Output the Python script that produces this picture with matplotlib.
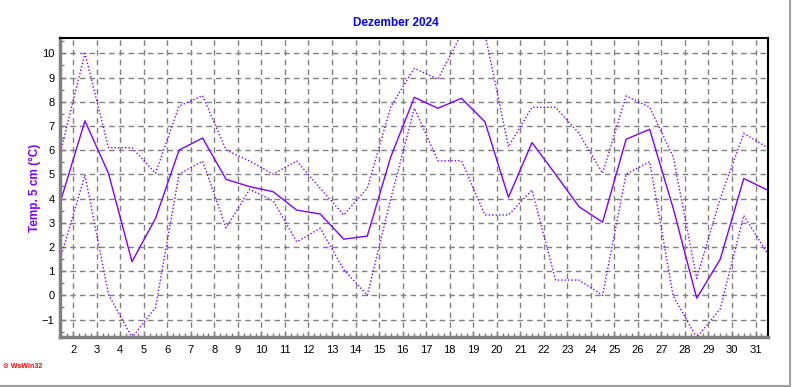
import numpy as np
import matplotlib.pyplot as plt
from matplotlib.ticker import MultipleLocator
from matplotlib.lines import Line2D

# Days of December 2024 (values plotted in the middle of each day)
days = np.arange(1, 32)

# Soil temperature at 5 cm (°C)
temp_mean = [4.0, 7.21, 5.04, 1.39, 3.18, 6.0, 6.5, 4.79, 4.49, 4.28,
             3.52, 3.36, 2.32, 2.45, 5.73, 8.18, 7.73, 8.14, 7.17, 4.05,
             6.31, 5.0, 3.66, 3.02, 6.45, 6.86, 3.6, -0.12, 1.49, 4.83, 4.35]
temp_max = [6.07, 10.0, 6.1, 6.1, 5.04, 7.82, 8.25, 6.0, 5.55, 5.01,
            5.55, 4.42, 3.32, 4.42, 7.8, 9.38, 8.93, 10.8, 10.8, 6.14,
            7.77, 7.77, 6.69, 5.04, 8.24, 7.77, 5.73, 0.7, 4.0, 6.69, 6.11]
temp_min = [1.67, 4.97, 0.04, -1.75, -0.5, 5.01, 5.54, 2.79, 4.38, 3.91,
            2.21, 2.77, 1.06, 0.0, 4.0, 7.73, 5.56, 5.56, 3.32, 3.32,
            4.35, 0.63, 0.63, 0.0, 5.01, 5.52, -0.03, -1.75, -0.56, 3.3, 1.74]

purple = "#8000FF"
grey = "#808080"

fig = plt.figure(figsize=(7.92, 3.87), dpi=100)
plt.rcParams["font.family"] = ["Liberation Sans", "DejaVu Sans"]

ax = fig.add_axes([60 / 792, 1 - 336.7 / 387, 708 / 792, 298.4 / 387])

x = days + 0.5
ax.plot(x, temp_max, color=purple, linestyle=(0, (1, 1.5)), linewidth=1.0)
ax.plot(x, temp_min, color=purple, linestyle=(0, (1, 1.5)), linewidth=1.0)
ax.plot(x, temp_mean, color=purple, linestyle="-", linewidth=1.0)

ax.set_xlim(1.44, 31.53)
ax.set_ylim(-1.71, 10.62)

ax.set_xticks(np.arange(2, 32))
ax.set_yticks(np.arange(-1, 11))
ax.xaxis.set_minor_locator(MultipleLocator(0.25))
ax.yaxis.set_minor_locator(MultipleLocator(0.5))
ax.tick_params(axis="both", which="both", direction="in", color=grey,
               labelsize=8, labelcolor="black")
ax.tick_params(axis="both", which="major", length=4, width=1)
ax.tick_params(axis="both", which="minor", length=3, width=1)
ax.tick_params(axis="x", pad=6)
ax.tick_params(axis="y", pad=4)

ax.grid(True, which="major", color=grey, linestyle=(0, (4, 3)), linewidth=1)

for side in ["left", "bottom"]:
    ax.spines[side].set_color(grey)
    ax.spines[side].set_linewidth(2.5)
for side in ["top", "right"]:
    ax.spines[side].set_color("black")
    ax.spines[side].set_linewidth(1.5)

fig.text(0.5, 1 - 23 / 387, "Dezember 2024", ha="center", va="center",
         color="#0000FF", fontsize=8.5, fontweight="bold")
ax.set_ylabel("Temp. 5 cm (°C)", color=purple, fontsize=8.5,
              fontweight="bold", labelpad=0.5)
fig.text(3 / 792, 1 - 366 / 387, "\u2299 WsWin32", ha="left", va="center",
         color="red", fontsize=5, fontweight="bold")

# outer frame lines (right / bottom)
fig.add_artist(Line2D([789.5 / 792, 789.5 / 792], [1 - 386 / 387, 1],
                      transform=fig.transFigure, color="#a0a0a0", linewidth=1.5))
fig.add_artist(Line2D([0, 789.5 / 792], [1 - 385.5 / 387, 1 - 385.5 / 387],
                      transform=fig.transFigure, color="#a0a0a0", linewidth=1.5))

plt.savefig("out.png", dpi=100)
